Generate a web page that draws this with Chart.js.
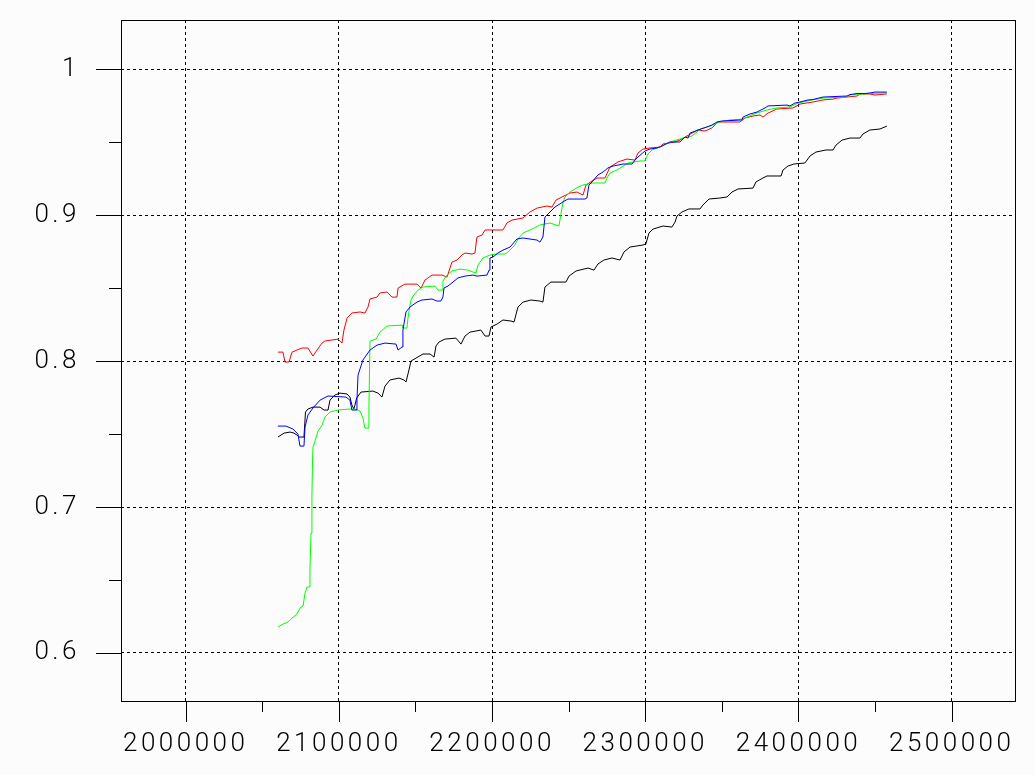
<!DOCTYPE html>
<html lang="en">
<head>
    <meta charset="UTF-8">
    <title>Curves</title>
    <script src="https://cdn.jsdelivr.net/npm/chart.js"></script>
    <style>
        html, body {
            margin: 0;
            padding: 0;
            background-color: #fcfcfc;
        }
        #wrap {
            width: 1035px;
            height: 775px;
        }
    </style>
</head>
<body>
    <div id="wrap"><canvas id="chart" width="1035" height="775"></canvas></div>
    <script>
        // axis ticks
        const xTicks = [2000000, 2100000, 2200000, 2300000, 2400000, 2500000];
        const xMinor = [2050000, 2150000, 2250000, 2350000, 2450000];
        const yTicks = [0.6, 0.7, 0.8, 0.9, 1];
        const yMinor = [0.65, 0.75, 0.85, 0.95];

        // x values are in thousands
        const redX = [2060.2, 2063.5, 2064.8, 2067.4, 2069.4, 2072.6, 2075.9, 2079.8, 2083.1, 2085.7,
            2089.0, 2090.9, 2099.4, 2102.0, 2103.3, 2105.3, 2108.5, 2113.8, 2117.0, 2119.0,
            2120.3, 2124.9, 2126.8, 2131.4, 2134.7, 2137.9, 2138.6, 2143.1, 2151.0, 2153.6,
            2156.2, 2160.8, 2167.3, 2170.6, 2172.5, 2173.8, 2177.1, 2180.3, 2182.3, 2186.9,
            2188.8, 2190.1, 2193.4, 2195.4, 2207.1, 2209.7, 2213.0, 2220.2, 2224.7, 2229.3,
            2235.8, 2239.1, 2241.7, 2245.6, 2250.8, 2255.4, 2259.3, 2261.3, 2265.2, 2268.5,
            2273.7, 2276.9, 2282.2, 2288.0, 2293.3, 2295.2, 2298.5, 2303.1, 2309.6, 2311.5,
            2319.4, 2322.6, 2330.5, 2334.4, 2339.0, 2343.5, 2347.4, 2361.8, 2365.1, 2370.3,
            2374.9, 2376.8, 2380.1, 2385.9, 2396.4, 2401.0, 2409.4, 2416.0, 2422.5, 2425.1,
            2431.6, 2438.2, 2440.1, 2446.6, 2449.9, 2457.7];
        const redY = [0.8062, 0.8062, 0.7994, 0.7994, 0.8062, 0.8076, 0.8090, 0.8090, 0.8035, 0.8076,
            0.8124, 0.8138, 0.8151, 0.8124, 0.8213, 0.8295, 0.8330, 0.8337, 0.8330, 0.8371,
            0.8426, 0.8439, 0.8467, 0.8474, 0.8439, 0.8439, 0.8501, 0.8528, 0.8528, 0.8501,
            0.8556, 0.8590, 0.8590, 0.8576, 0.8638, 0.8679, 0.8693, 0.8727, 0.8741, 0.8734,
            0.8741, 0.8851, 0.8864, 0.8899, 0.8899, 0.8947, 0.8967, 0.8981, 0.9022, 0.9049,
            0.9063, 0.9056, 0.9104, 0.9125, 0.9152, 0.9159, 0.9138, 0.9207, 0.9234, 0.9255,
            0.9255, 0.9330, 0.9365, 0.9385, 0.9378, 0.9426, 0.9454, 0.9461, 0.9467, 0.9488,
            0.9502, 0.9515, 0.9563, 0.9584, 0.9577, 0.9598, 0.9639, 0.9639, 0.9666, 0.9680,
            0.9687, 0.9673, 0.9700, 0.9728, 0.9735, 0.9762, 0.9776, 0.9790, 0.9796, 0.9803,
            0.9810, 0.9817, 0.9831, 0.9831, 0.9824, 0.9831];

        const blueX = [2060.2, 2065.5, 2070.0, 2073.3, 2074.6, 2077.2, 2077.9, 2079.8, 2083.1, 2087.7,
            2092.9, 2104.6, 2107.2, 2108.5, 2111.2, 2111.8, 2112.5, 2115.7, 2120.3, 2124.9,
            2130.1, 2137.3, 2138.6, 2141.2, 2141.8, 2143.8, 2146.4, 2151.0, 2154.2, 2160.8,
            2164.0, 2166.6, 2167.9, 2168.6, 2171.2, 2174.5, 2177.7, 2182.3, 2187.5, 2190.1,
            2196.7, 2198.0, 2198.6, 2200.6, 2203.8, 2207.1, 2211.7, 2216.2, 2220.2, 2229.3,
            2231.2, 2233.2, 2234.5, 2237.8, 2241.0, 2246.3, 2249.5, 2260.6, 2261.9, 2263.2,
            2265.2, 2269.1, 2272.4, 2275.6, 2278.9, 2285.4, 2291.3, 2293.3, 2295.2, 2299.8,
            2303.1, 2307.6, 2310.9, 2316.1, 2322.6, 2325.9, 2327.9, 2329.2, 2334.4, 2340.3,
            2343.5, 2346.8, 2350.0, 2363.1, 2363.8, 2368.3, 2372.9, 2378.1, 2380.1, 2392.5,
            2394.4, 2397.7, 2401.0, 2406.2, 2409.4, 2416.0, 2431.6, 2433.6, 2438.2, 2443.4,
            2446.6, 2449.9, 2457.7];
        const blueY = [0.7555, 0.7555, 0.7535, 0.7500, 0.7418, 0.7418, 0.7548, 0.7631, 0.7679, 0.7733,
            0.7761, 0.7754, 0.7733, 0.7665, 0.7665, 0.7733, 0.7905, 0.8008, 0.8076, 0.8110,
            0.8124, 0.8117, 0.8076, 0.8097, 0.8213, 0.8337, 0.8371, 0.8405, 0.8419, 0.8426,
            0.8412, 0.8412, 0.8439, 0.8501, 0.8515, 0.8542, 0.8570, 0.8583, 0.8590, 0.8583,
            0.8590, 0.8624, 0.8707, 0.8714, 0.8741, 0.8761, 0.8782, 0.8837, 0.8844, 0.8830,
            0.8816, 0.8851, 0.8988, 0.9022, 0.9056, 0.9091, 0.9111, 0.9111, 0.9118, 0.9207,
            0.9228, 0.9276, 0.9296, 0.9324, 0.9337, 0.9351, 0.9351, 0.9378, 0.9399, 0.9440,
            0.9454, 0.9461, 0.9474, 0.9502, 0.9502, 0.9536, 0.9529, 0.9563, 0.9584, 0.9605,
            0.9618, 0.9639, 0.9646, 0.9653, 0.9673, 0.9694, 0.9707, 0.9735, 0.9749, 0.9755,
            0.9749, 0.9769, 0.9776, 0.9790, 0.9793, 0.9810, 0.9817, 0.9827, 0.9834, 0.9834,
            0.9838, 0.9844, 0.9844];

        const greenX = [2060.2, 2063.5, 2066.8, 2069.4, 2072.6, 2074.6, 2076.6, 2077.9, 2079.2, 2080.5,
            2081.1, 2081.8, 2082.4, 2082.8, 2083.1, 2084.4, 2086.4, 2089.0, 2090.9, 2094.2,
            2099.4, 2107.2, 2110.5, 2113.8, 2115.7, 2117.0, 2119.0, 2119.6, 2120.3, 2124.2,
            2126.8, 2131.4, 2141.2, 2141.8, 2144.4, 2145.1, 2146.4, 2147.1, 2148.4, 2151.6,
            2154.9, 2162.7, 2164.7, 2167.3, 2167.9, 2170.6, 2173.8, 2179.0, 2184.3, 2187.5,
            2189.5, 2190.8, 2194.0, 2198.6, 2203.2, 2208.4, 2210.4, 2214.9, 2216.9, 2220.2,
            2226.0, 2231.2, 2237.8, 2241.7, 2243.6, 2244.3, 2246.3, 2247.6, 2250.8, 2256.1,
            2259.3, 2265.8, 2273.7, 2275.0, 2276.9, 2281.5, 2288.7, 2296.5, 2299.8, 2301.7,
            2304.4, 2309.6, 2316.1, 2324.6, 2330.5, 2333.7, 2335.7, 2342.2, 2348.7, 2355.3,
            2363.1, 2366.4, 2372.9, 2379.4, 2385.9, 2394.4, 2398.3, 2402.9, 2408.8, 2416.0,
            2431.6, 2433.6, 2438.2, 2443.4, 2446.6, 2449.9, 2457.7];
        const greenY = [0.6178, 0.6198, 0.6212, 0.6239, 0.6267, 0.6308, 0.6322, 0.6411, 0.6452, 0.6452,
            0.6568, 0.6822, 0.7069, 0.7322, 0.7411, 0.7452, 0.7521, 0.7562, 0.7617, 0.7651,
            0.7665, 0.7672, 0.7672, 0.7658, 0.7610, 0.7541, 0.7541, 0.7685, 0.8138, 0.8151,
            0.8199, 0.8241, 0.8247, 0.8227, 0.8227, 0.8295, 0.8384, 0.8419, 0.8446, 0.8487,
            0.8508, 0.8515, 0.8487, 0.8487, 0.8549, 0.8590, 0.8618, 0.8631, 0.8624, 0.8611,
            0.8604, 0.8659, 0.8707, 0.8727, 0.8734, 0.8734, 0.8748, 0.8796, 0.8837, 0.8878,
            0.8905, 0.8933, 0.8947, 0.8933, 0.8926, 0.8967, 0.9091, 0.9125, 0.9159, 0.9193,
            0.9207, 0.9221, 0.9221, 0.9255, 0.9289, 0.9310, 0.9358, 0.9372, 0.9372, 0.9420,
            0.9447, 0.9468, 0.9502, 0.9529, 0.9543, 0.9570, 0.9591, 0.9611, 0.9639, 0.9653,
            0.9659, 0.9673, 0.9701, 0.9721, 0.9735, 0.9742, 0.9762, 0.9776, 0.9790, 0.9803,
            0.9810, 0.9824, 0.9829, 0.9831, 0.9834, 0.9836, 0.9838];

        const blackX = [2060.2, 2064.2, 2068.1, 2070.7, 2072.6, 2074.0, 2077.2, 2078.2, 2079.8, 2083.1,
            2087.7, 2090.3, 2092.9, 2094.2, 2097.4, 2100.7, 2105.3, 2107.2, 2108.5, 2109.8,
            2111.6, 2114.4, 2122.2, 2125.5, 2128.1, 2130.1, 2133.3, 2139.2, 2142.5, 2143.8,
            2145.4, 2147.1, 2150.3, 2154.9, 2159.5, 2162.1, 2163.4, 2165.3, 2169.2, 2176.4,
            2179.7, 2182.3, 2185.6, 2192.7, 2195.4, 2198.0, 2199.3, 2203.2, 2207.1, 2212.3,
            2214.3, 2216.9, 2220.2, 2225.4, 2231.2, 2233.2, 2234.5, 2238.4, 2248.2, 2250.2,
            2254.8, 2262.6, 2266.5, 2269.1, 2273.0, 2278.2, 2283.5, 2286.1, 2290.0, 2298.5,
            2300.4, 2302.4, 2305.0, 2311.5, 2317.4, 2319.4, 2320.7, 2323.9, 2328.5, 2335.7,
            2337.6, 2341.6, 2348.7, 2353.3, 2356.6, 2360.5, 2370.3, 2372.2, 2376.8, 2379.4,
            2388.6, 2389.9, 2393.1, 2397.0, 2404.2, 2407.5, 2411.4, 2417.9, 2422.5, 2424.5,
            2428.4, 2433.6, 2440.1, 2442.1, 2446.6, 2453.2, 2457.7];
        const blackY = [0.7480, 0.7507, 0.7514, 0.7507, 0.7494, 0.7480, 0.7480, 0.7651, 0.7672, 0.7685,
            0.7685, 0.7665, 0.7665, 0.7733, 0.7768, 0.7781, 0.7775, 0.7754, 0.7699, 0.7672,
            0.7747, 0.7788, 0.7795, 0.7781, 0.7754, 0.7829, 0.7871, 0.7884, 0.7871, 0.7857,
            0.7925, 0.8001, 0.8021, 0.8049, 0.8049, 0.8028, 0.8104, 0.8131, 0.8151, 0.8158,
            0.8117, 0.8172, 0.8199, 0.8213, 0.8172, 0.8172, 0.8234, 0.8254, 0.8282, 0.8275,
            0.8268, 0.8371, 0.8405, 0.8419, 0.8412, 0.8405, 0.8508, 0.8542, 0.8542, 0.8583,
            0.8618, 0.8638, 0.8624, 0.8666, 0.8693, 0.8707, 0.8693, 0.8748, 0.8782, 0.8796,
            0.8803, 0.8878, 0.8905, 0.8926, 0.8919, 0.8953, 0.8995, 0.9022, 0.9043, 0.9043,
            0.9070, 0.9111, 0.9118, 0.9125, 0.9159, 0.9180, 0.9186, 0.9228, 0.9255, 0.9269,
            0.9269, 0.9310, 0.9337, 0.9351, 0.9358, 0.9406, 0.9433, 0.9447, 0.9447, 0.9481,
            0.9515, 0.9529, 0.9529, 0.9557, 0.9584, 0.9591, 0.9611];

        function toPoints(xs, ys) {
            return xs.map((x, i) => ({ x: x * 1000, y: ys[i] }));
        }

        function line(xs, ys, color) {
            return {
                data: toPoints(xs, ys),
                borderColor: color,
                borderWidth: 1,
                pointRadius: 0,
                tension: 0,
                fill: false
            };
        }

        function noPadding(s) {
            s.paddingTop = 0;
            s.paddingBottom = 0;
            s.paddingLeft = 0;
            s.paddingRight = 0;
        }

        const tickFont = { family: 'Roboto, Lato, sans-serif', size: 26, weight: '300' };

        // frame, outside tick marks and letter spacing for labels
        const framePlugin = {
            id: 'frame',
            beforeDraw(chart) {
                const ctx = chart.ctx;
                ctx.save();
                ctx.fillStyle = '#fcfcfc';
                ctx.fillRect(0, 0, chart.width, chart.height);
                ctx.restore();
                ctx.letterSpacing = '3.5px';
            },
            afterDraw(chart) {
                const { ctx, chartArea: a, scales: { x, y } } = chart;
                ctx.letterSpacing = '0px';
                ctx.save();
                ctx.strokeStyle = '#000';
                ctx.lineWidth = 1;
                ctx.strokeRect(a.left + 0.5, a.top + 0.5, a.right - a.left, a.bottom - a.top);
                ctx.beginPath();
                xTicks.forEach(v => {
                    const px = Math.round(x.getPixelForValue(v)) + 0.5;
                    ctx.moveTo(px, a.bottom);
                    ctx.lineTo(px, a.bottom + 21);
                });
                xMinor.forEach(v => {
                    const px = Math.round(x.getPixelForValue(v)) + 0.5;
                    ctx.moveTo(px, a.bottom);
                    ctx.lineTo(px, a.bottom + 11);
                });
                yTicks.forEach(v => {
                    const py = Math.round(y.getPixelForValue(v)) + 0.5;
                    ctx.moveTo(a.left - 25, py);
                    ctx.lineTo(a.left, py);
                });
                yMinor.forEach(v => {
                    const py = Math.round(y.getPixelForValue(v)) + 0.5;
                    ctx.moveTo(a.left - 12, py);
                    ctx.lineTo(a.left, py);
                });
                ctx.stroke();
                ctx.restore();
            }
        };

        const ctx = document.getElementById('chart').getContext('2d');
        new Chart(ctx, {
            type: 'line',
            data: {
                datasets: [
                    line(blueX, blueY, '#0000ff'),
                    line(greenX, greenY, '#00ff00'),
                    line(redX, redY, '#ff0000'),
                    line(blackX, blackY, '#000000')
                ]
            },
            options: {
                responsive: false,
                animation: false,
                devicePixelRatio: 1,
                layout: { padding: { top: 20, right: 20, left: 0, bottom: 0 } },
                plugins: {
                    legend: { display: false },
                    tooltip: { enabled: false }
                },
                scales: {
                    x: {
                        type: 'linear',
                        min: 1957770,
                        max: 2541320,
                        afterBuildTicks: s => { s.ticks = xTicks.map(v => ({ value: v })); },
                        afterFit: s => { s.height = 74; noPadding(s); },
                        ticks: {
                            color: '#000',
                            font: tickFont,
                            padding: 28,
                            maxRotation: 0,
                            autoSkip: false,
                            callback: v => String(v)
                        },
                        grid: { color: '#000', lineWidth: 1, drawTicks: false },
                        border: { display: false, dash: [3, 3] }
                    },
                    y: {
                        type: 'linear',
                        min: 0.5671,
                        max: 1.0338,
                        afterBuildTicks: s => { s.ticks = yTicks.map(v => ({ value: v })); },
                        afterFit: s => { s.width = 121; noPadding(s); },
                        ticks: {
                            color: '#000',
                            font: tickFont,
                            padding: 41,
                            autoSkip: false,
                            callback: v => String(v)
                        },
                        grid: { color: '#000', lineWidth: 1, drawTicks: false },
                        border: { display: false, dash: [3, 3] }
                    }
                }
            },
            plugins: [framePlugin]
        });
    </script>
</body>
</html>
